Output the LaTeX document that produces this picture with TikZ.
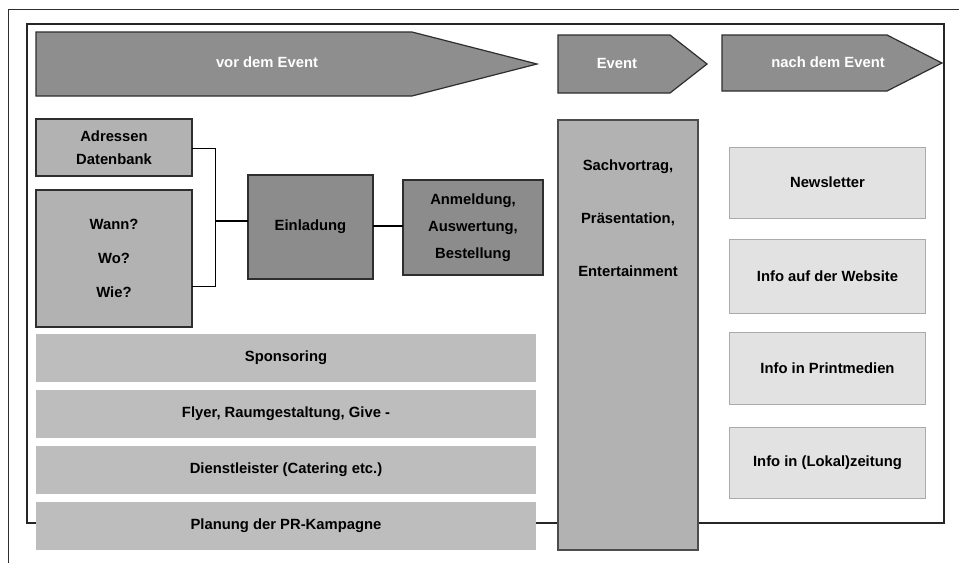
\documentclass[tikz,border=0pt]{standalone}
\usepackage{fontspec}
\setmainfont{Liberation Sans}
\definecolor{phasefill}{HTML}{8E8E8E}
\definecolor{darkfill}{HTML}{8C8C8C}
\definecolor{midfill}{HTML}{B2B2B2}
\definecolor{barfill}{HTML}{BDBDBD}
\definecolor{lightfill}{HTML}{E2E2E2}
\definecolor{lightedge}{HTML}{AAAAAA}
\definecolor{edgegray}{HTML}{2E2E2E}
\begin{document}
\begin{tikzpicture}[x=1pt,y=-1pt,
  txt/.style={font=\fontsize{14.8}{17}\selectfont\bfseries, align=center, text=black},
  phase/.style={fill=phasefill, draw=edgegray, line width=1.2pt, line join=miter},
  phaselbl/.style={txt, text=white},
  box/.style={txt, rectangle, inner sep=0pt, outer sep=0pt, draw=edgegray, line width=1.2pt},
  midbox/.style={box, fill=midfill},
  darkbox/.style={box, fill=darkfill},
  bar/.style={txt, rectangle, inner sep=0pt, outer sep=0pt, fill=barfill, minimum width=500pt, minimum height=48pt},
  infobox/.style={txt, rectangle, inner sep=0pt, outer sep=0pt, fill=lightfill, draw=lightedge, line width=0.8pt, minimum width=196pt},
  link/.style={draw=black, line width=1.4pt}
]
\useasboundingbox (0,0) rectangle (959,563);
\fill[white] (0,0) rectangle (959,563);

% outer page rule and inner frame
\draw[line width=0.8pt, draw=edgegray] (959,9) -- (8,9) -- (8,563);
\draw[line width=1.8pt, draw=black!85] (27,24) rectangle (944,523);

% phase arrows
\draw[phase] (36,32) -- (412,32) -- (537,64) -- (412,96) -- (36,96) -- cycle;
\node[phaselbl] (vor) at (267,62) {vor dem Event};
\draw[phase] (558,35) -- (670,35) -- (707,64) -- (670,93) -- (558,93) -- cycle;
\node[phaselbl] (evt) at (617,63) {Event};
\draw[phase] (722,35) -- (887,35) -- (942,63) -- (887,91) -- (722,91) -- cycle;
\node[phaselbl] (nach) at (828,62) {nach dem Event};

% before the event
\node[midbox, minimum width=156pt, minimum height=57pt] (adr) at (114,147.5) {Adressen\\[6pt]Datenbank};
\node[midbox, line width=1.8pt, minimum width=156pt, minimum height=137pt] (wann) at (114,258.5) {Wann?\\[17pt]Wo?\\[17pt]Wie?};
\node[darkbox, minimum width=125pt, minimum height=104pt] (ein) at (310.5,227) {Einladung};
\node[darkbox, minimum width=140pt, minimum height=95pt] (anm) at (473,227.5) {Anmeldung,\\[10pt]Auswertung,\\[10pt]Bestellung};

\coordinate (bt) at (215,148);
\coordinate (bb) at (215,286);
\coordinate (bm) at (215,221);
\draw[link, line width=1pt] (adr.east |- bt) -- (bt) -- (bb) -- (wann.east |- bb);
\draw[link] (bm) -- (bm -| ein.west);
\coordinate (em) at (373,226);
\draw[link] (ein.east |- em) -- (anm.west |- em);

\node[bar] (spon) at (286,358) {Sponsoring};
\node[bar] (flyer) at (286,414) {Flyer, Raumgestaltung, Give -};
\node[bar] (dienst) at (286,470) {Dienstleister (Catering etc.)};
\node[bar] (plan) at (286,526) {Planung der PR-Kampagne};

% the event itself
\node[midbox, draw=black!70, minimum width=140pt, minimum height=430pt] (evcol) at (628,335) {};
\node[txt] (evtxt) at (628,218) {Sachvortrag,\\[36pt]Präsentation,\\[36pt]Entertainment};

% after the event
\node[infobox, minimum height=71pt] (news) at (827.5,182.5) {Newsletter};
\node[infobox, minimum height=74pt] (web) at (827.5,276) {Info auf der Website};
\node[infobox, minimum height=72pt] (print) at (827.5,368) {Info in Printmedien};
\node[infobox, minimum height=71pt] (lokal) at (827.5,462.5) {Info in (Lokal)zeitung};
\end{tikzpicture}
\end{document}
